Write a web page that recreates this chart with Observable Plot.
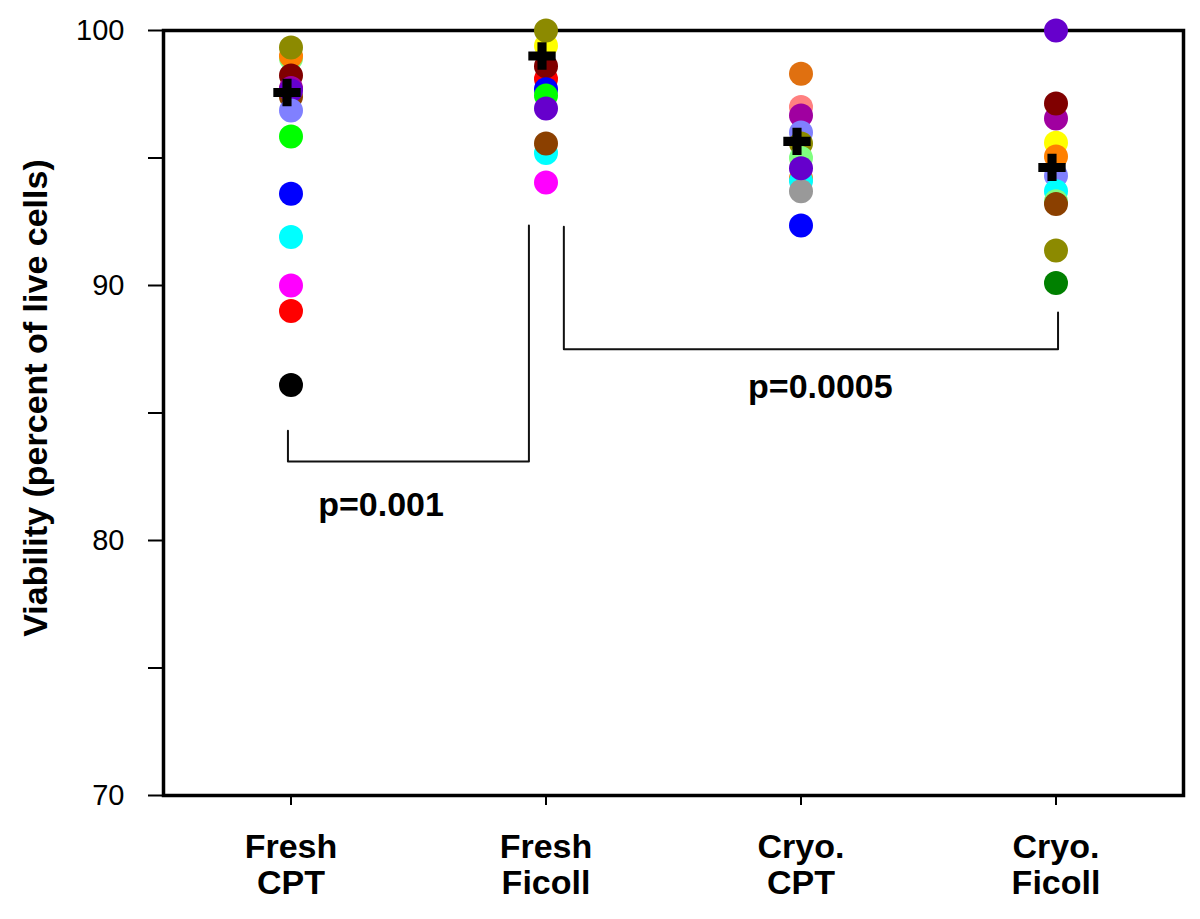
<!DOCTYPE html>
<html>
<head>
<meta charset="utf-8">
<script src="https://cdn.jsdelivr.net/npm/d3@7"></script>
<script src="https://cdn.jsdelivr.net/npm/@observablehq/plot@0.6"></script>
<style>
  html, body { margin: 0; padding: 0; background: #fff; }
  #chart { width: 1200px; height: 919px; }
</style>
</head>
<body>
<div id="chart"></div>
<script>
// ---- Data ----
const categories = ["Fresh\nCPT", "Fresh\nFicoll", "Cryo.\nCPT", "Cryo.\nFicoll"];

const freshCPTValues = [98.9, 99.0, 99.33, 97.4, 98.24, 97.75, 97.65, 96.86, 95.84, 93.6, 91.9, 90.0, 89.0, 86.1];
const freshCPTColors = ["#80ff80", "#ff8000", "#8c8a00", "#8b4000", "#800000", "#a000a0", "#6600cc", "#8080ff", "#00ff00", "#0000ff", "#00ffff", "#ff00ff", "#ff0000", "#000000"];

const freshFicollValues = [99.4, 100.0, 98.1, 98.6, 97.7, 97.45, 96.94, 95.2, 95.57, 94.04];
const freshFicollColors = ["#ffff00", "#8c8a00", "#ff0000", "#800000", "#0000ff", "#00ff00", "#6600cc", "#00ffff", "#8b4000", "#ff00ff"];

const cryoCPTValues = [98.3, 97.0, 96.67, 96.0, 95.57, 95.0, 94.2, 94.1, 93.7, 94.6, 92.35];
const cryoCPTColors = ["#e07010", "#ff8080", "#a000a0", "#8080ff", "#8c8a00", "#80ff80", "#ff8000", "#00ffff", "#999999", "#6600cc", "#0000ff"];

const cryoFicollValues = [100.0, 96.55, 97.14, 95.6, 95.06, 94.3, 93.7, 93.3, 93.2, 91.37, 90.1];
const cryoFicollColors = ["#6600cc", "#a000a0", "#800000", "#ffff00", "#ff8000", "#8080ff", "#00ffff", "#80ff80", "#8b4000", "#8c8a00", "#008000"];

const meanValues = [97.57, 99.0, 95.65, 94.63];

const yTicks = [70, 75, 80, 85, 90, 95, 100];

// significance brackets (x in category index units, y in viability units)
const bracket1X = [-0.012, -0.012, 0.933, 0.933];
const bracket1Y = [84.3, 83.1, 83.1, 92.35];
const bracket2X = [1.07, 1.07, 3.008, 3.008];
const bracket2Y = [92.3, 87.5, 87.5, 88.94];
const pLabels = ["p=0.001", "p=0.0005"];
const pLabelX = [0.353, 2.076];
const pLabelY = [81.4, 86.0];

const yLabel = "Viability (percent of live cells)";

// ---- Build tables ----
const groups = [
  [freshCPTValues, freshCPTColors],
  [freshFicollValues, freshFicollColors],
  [cryoCPTValues, cryoCPTColors],
  [cryoFicollValues, cryoFicollColors]
];
const points = [];
groups.forEach(([vals, cols], i) => {
  vals.forEach((v, j) => points.push({idx: i, v, color: cols[j]}));
});
const means = meanValues.map((v, i) => ({idx: i, v}));
const br1 = bracket1X.map((x, i) => ({x, y: bracket1Y[i]}));
const br2 = bracket2X.map((x, i) => ({x, y: bracket2Y[i]}));
const pData = pLabels.map((t, i) => ({t, x: pLabelX[i], y: pLabelY[i]}));

const font = "'Liberation Sans', Arial, Helvetica, sans-serif";

const chart = Plot.plot({
  width: 1200,
  height: 919,
  marginLeft: 163,
  marginRight: 17,
  marginTop: 30,
  marginBottom: 124,
  style: {fontFamily: font, background: "#fff", color: "#000"},
  x: {type: "linear", domain: [-0.5, 3.5]},
  y: {domain: [70, 100]},
  color: {type: "identity"},
  marks: [
    Plot.axisY({
      ticks: yTicks,
      tickSize: 15,
      tickPadding: 24,
      tickFormat: d => (d % 10 === 0 ? String(d) : ""),
      fontSize: 29,
      label: null,
      strokeWidth: 2
    }),
    Plot.axisX({
      ticks: [0, 1, 2, 3],
      tickSize: 10,
      tickPadding: 27,
      tickFormat: i => categories[i],
      fontSize: 34,
      fontWeight: "bold",
      lineHeight: 1.05,
      label: null,
      strokeWidth: 2
    }),
    Plot.frame({stroke: "#000", strokeWidth: 3.5}),
    Plot.line(br1, {x: "x", y: "y", stroke: "#111", strokeWidth: 2}),
    Plot.line(br2, {x: "x", y: "y", stroke: "#111", strokeWidth: 2}),
    Plot.dot(points, {x: "idx", y: "v", fill: "color", r: 12, stroke: null}),
    Plot.dot(means, {x: "idx", y: "v", symbol: "cross", fill: "#000", r: 11.5, dx: -4}),
    Plot.text(pData, {x: "x", y: "y", text: "t", fontSize: 34, fontWeight: "bold", textAnchor: "middle", lineAnchor: "middle", fill: "#000"}),
    Plot.text([yLabel], {frameAnchor: "left", text: d => d, rotate: -90, dx: -127, dy: -15, fontSize: 34, fontWeight: "bold", textAnchor: "middle", lineAnchor: "middle", fill: "#000"})
  ]
});
document.getElementById("chart").appendChild(chart);
</script>
</body>
</html>
